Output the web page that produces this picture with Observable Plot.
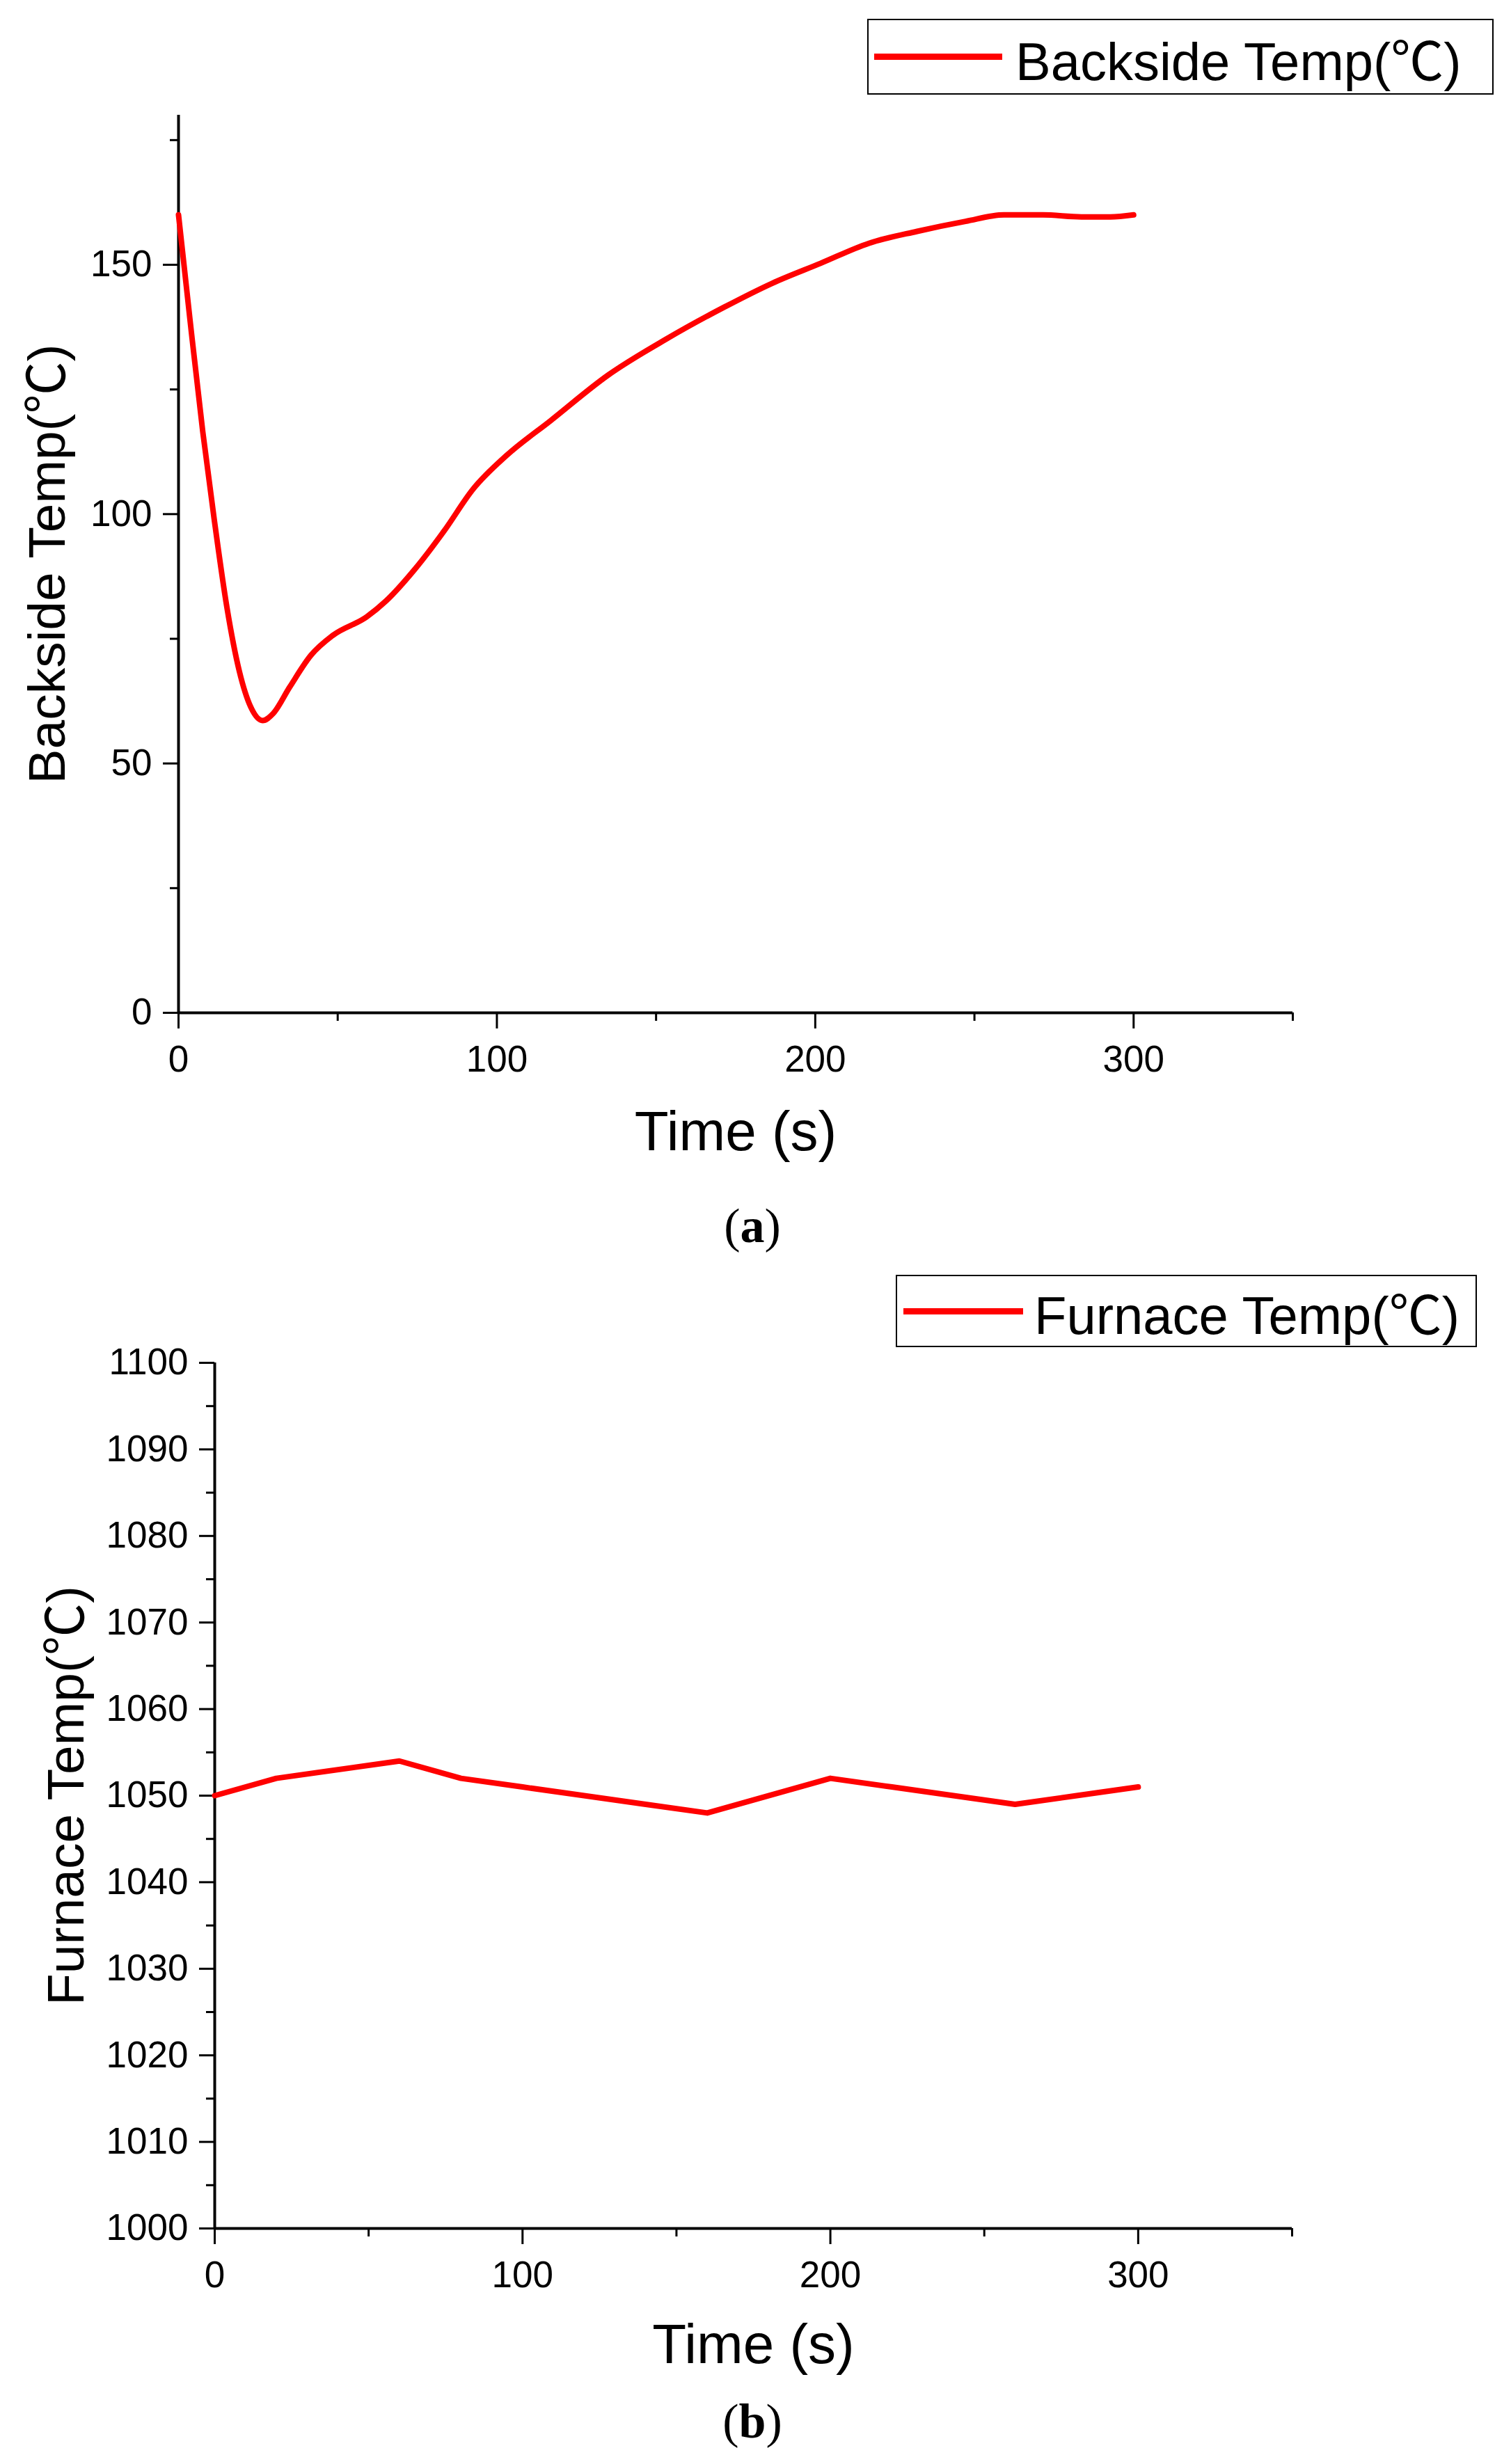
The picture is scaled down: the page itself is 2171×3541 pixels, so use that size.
<!DOCTYPE html>
<html>
<head>
<meta charset="utf-8">
<script src="https://cdn.jsdelivr.net/npm/d3@7"></script>
<script src="https://cdn.jsdelivr.net/npm/@observablehq/plot@0.6"></script>
<style>
  html, body { margin: 0; padding: 0; background: #fff; }
  body { width: 2171px; height: 3541px; position: relative; overflow: hidden; font-family: "Liberation Sans", Arial, sans-serif; }
  .panel { position: absolute; left: 0; }
  .legend { position: absolute; border: 2.5px solid #000; box-sizing: border-box; background: #fff; display: flex; align-items: center; }
  .legend .swatch { height: 9px; background: #ff0000; }
  .legend .lab { font-family: "Liberation Sans", Arial, sans-serif; font-size: 76px; color: #000; white-space: nowrap; }
  .cjk { font-family: "Noto Sans CJK SC", "Noto Sans CJK JP", sans-serif; }
  .caption { position: absolute; width: 300px; text-align: center; font-family: "Liberation Serif", "Times New Roman", serif; font-size: 70px; color: #000; }
</style>
</head>
<body>
<div id="a" class="panel" style="top:0"></div>
<div id="b" class="panel" style="top:1800px"></div>

<div class="legend" style="left:1246px; top:27px; width:900px; height:109px;">
  <div class="swatch" style="margin-left:8px; width:184px;"></div>
  <div class="lab" style="margin-left:19px;">Backside Temp(<span class="cjk">℃</span>)</div>
</div>
<div class="legend" style="left:1287px; top:1832px; width:835px; height:104px;">
  <div class="swatch" style="margin-left:9px; width:172px;"></div>
  <div class="lab" style="margin-left:16px;">Furnace Temp(<span class="cjk">℃</span>)</div>
</div>

<div class="caption" style="left:931px; top:1722px;">(<b>a</b>)</div>
<div class="caption" style="left:931px; top:3440px;">(<b>b</b>)</div>

<script>
// ---- Panel (a): Backside temperature ----
const backTime = [0, 3.6, 7.6, 11.2, 15.2, 19.1, 22.7, 26.4, 29.7, 34.9, 41.6, 48.5, 59.1, 65.2, 74.3, 83.4, 92.5, 103.1, 116.8, 135, 153.2, 171.4, 186.5, 201.7, 216.8, 232, 247.2, 259.3, 271.5, 283.6, 292.7, 300];
const backTemp = [160, 139, 116.6, 99, 81.3, 68.5, 61.3, 58.6, 60, 65.3, 71.7, 75.7, 79.4, 82.6, 89, 96.6, 105, 111.8, 118.7, 127.9, 135.1, 141.5, 146.3, 150.3, 154.3, 156.7, 158.7, 160, 160, 159.6, 159.6, 160];

// ---- Panel (b): Furnace temperature ----
const furnTime = [0, 20, 60, 80, 100, 120, 140, 160, 200, 220, 240, 260, 280, 300];
const furnTemp = [1050, 1052, 1054, 1052, 1051, 1050, 1049, 1048, 1052, 1051, 1050, 1049, 1050, 1051];

// ---- Axes ----
const xMajor = [0, 100, 200, 300];
const xMinor = [50, 150, 250, 350];
const yMajorA = [0, 50, 100, 150];
const yMinorA = [25, 75, 125, 175];
const yMajorB = [1000, 1010, 1020, 1030, 1040, 1050, 1060, 1070, 1080, 1090, 1100];
const yMinorB = [1005, 1015, 1025, 1035, 1045, 1055, 1065, 1075, 1085, 1095];

const xTitle = "Time (s)";
const yTitleA = "Backside Temp(℃)";
const yTitleB = "Furnace Temp(℃)";

const FONT = "Liberation Sans, Arial, sans-serif";
const RED = "#ff0000";

function cjkDegree(svg) {
  // render the ℃ sign with a CJK font (full-width glyph, as in the reference)
  svg.querySelectorAll("text").forEach(t => {
    if (t.textContent.includes("℃") && !t.querySelector("tspan")) {
      const parts = t.textContent.split("℃");
      t.textContent = "";
      parts.forEach((p, i) => {
        t.appendChild(document.createTextNode(p));
        if (i < parts.length - 1) {
          const ts = document.createElementNS("http://www.w3.org/2000/svg", "tspan");
          ts.setAttribute("font-family", "Noto Sans CJK SC, Noto Sans CJK JP, sans-serif");
          ts.textContent = "℃";
          t.appendChild(ts);
        }
      });
    }
  });
  return svg;
}

function panel({time, temp, yDomain, yMajor, yMinor, yTitle, mLeft, mRight, mTop, mBottom, height, yTitleDx, xTitleDy, curve}) {
  const data = time.map((t, i) => ({t, v: temp[i]}));
  return cjkDegree(Plot.plot({
    width: 2171,
    height,
    marginLeft: mLeft,
    marginRight: mRight,
    marginTop: mTop,
    marginBottom: mBottom,
    style: {fontFamily: FONT, color: "#000", background: "transparent", overflow: "visible"},
    x: {domain: [0, 350], axis: null},
    y: {domain: yDomain, axis: null},
    marks: [
      Plot.axisX({ticks: xMajor, tickSize: 23, tickPadding: 24, fontSize: 53, strokeWidth: 3, label: null, tickFormat: d => String(d)}),
      Plot.axisX({ticks: xMinor, tickSize: 12, strokeWidth: 3, label: null, tickFormat: () => ""}),
      Plot.axisY({ticks: yMajor, tickSize: 22, tickPadding: 16, fontSize: 53, strokeWidth: 3, label: null, tickFormat: d => String(d)}),
      Plot.axisY({ticks: yMinor, tickSize: 12, strokeWidth: 3, label: null, tickFormat: () => ""}),
      Plot.ruleY([yDomain[0]], {stroke: "#000", strokeWidth: 4}),
      Plot.ruleX([0], {stroke: "#000", strokeWidth: 4}),
      Plot.line(data, {x: "t", y: "v", stroke: RED, strokeWidth: 8, curve}),
      Plot.text([xTitle], {text: d => d, frameAnchor: "bottom", dy: xTitleDy, fontSize: 80, textAnchor: "middle", lineAnchor: "middle", fill: "#000"}),
      Plot.text([yTitle], {text: d => d, frameAnchor: "left", dx: yTitleDx, rotate: -90, fontSize: 75, textAnchor: "middle", lineAnchor: "middle", fill: "#000"})
    ]
  }));
}

document.getElementById("a").append(panel({
  time: backTime, temp: backTemp, yDomain: [0, 180], yMajor: yMajorA, yMinor: yMinorA, yTitle: yTitleA,
  mLeft: 256, mRight: 2171 - 1857, mTop: 165, mBottom: 1800 - 1455, height: 1800, yTitleDx: -188, xTitleDy: 172,
  curve: "monotone-x"
}));

document.getElementById("b").append(panel({
  time: furnTime, temp: furnTemp, yDomain: [1000, 1100], yMajor: yMajorB, yMinor: yMinorB, yTitle: yTitleB,
  mLeft: 308, mRight: 2171 - 1856, mTop: 158, mBottom: 1741 - 1402, height: 1741, yTitleDx: -213, xTitleDy: 168,
  curve: "linear"
}));
</script>
</body>
</html>
